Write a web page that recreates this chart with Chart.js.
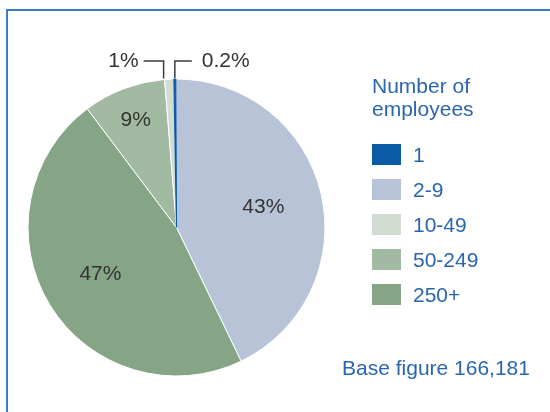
<!DOCTYPE html>
<html>
<head>
<meta charset="utf-8">
<script src="https://cdn.jsdelivr.net/npm/chart.js@4/dist/chart.umd.min.js"></script>
<style>
  body { margin: 0; background: #fff; }
  #wrap { position: relative; width: 550px; height: 412px; overflow: hidden; font-family: "Liberation Sans", Arial, sans-serif; }
  #frame { position: absolute; left: 6px; top: 9px; width: 560px; height: 420px; border-top: 2px solid #3b7dc4; border-left: 2px solid #3b7dc4; }
  #myChart { position: absolute; left: 0; top: 0; }
  .blue { position: absolute; color: #2a66ae; font-size: 21px; }
  #title { left: 372px; top: 74px; line-height: 23px; }
  .row { position: absolute; left: 372px; height: 21px; display: flex; align-items: center; color: #2a66ae; font-size: 21px; line-height: 21px; }
  .box { width: 29px; height: 21px; margin-right: 12px; }
  #base { left: 342px; top: 357px; line-height: 21px; }
</style>
</head>
<body>
<div id="wrap">
  <div id="frame"></div>
  <canvas id="myChart" width="550" height="412"></canvas>
  <div id="title" class="blue">Number of<br>employees</div>
  <div id="legend"></div>
  <div id="base" class="blue">Base figure 166,181</div>
</div>
<script>
// legend order
var categories = ['1', '2-9', '10-49', '50-249', '250+'];
var shares = [0.2, 43, 1, 9, 47];
var colors = ['#0b5aa6', '#b9c3d8', '#d2dcd2', '#a2b9a2', '#86a586'];
// clockwise slice order; the thin "1" slice goes last so it is drawn on top,
// and the rotation puts it back just left of 12 o'clock
var pieOrder = [1, 4, 3, 2, 0];
var total = shares.reduce(function (a, b) { return a + b; }, 0);
var startAngle = -1 + 360 * shares[0] / total;

var legend = document.getElementById('legend');
categories.forEach(function (c, i) {
    var row = document.createElement('div');
    row.className = 'row';
    row.style.top = (144 + i * 35) + 'px';
    row.innerHTML = '<div class="box" style="background:' + colors[i] + '"></div><span>' + c + '</span>';
    legend.appendChild(row);
});

function fmt(v) {
    return (v < 1 ? v.toFixed(1) : Math.round(v)) + '%';
}

var sliceLabels = {
    id: 'sliceLabels',
    afterDatasetsDraw: function (chart) {
        var ctx = chart.ctx;
        var data = chart.data.datasets[0].data;
        var arcs = chart.getDatasetMeta(0).data;
        ctx.save();
        ctx.font = '21px "Liberation Sans", Arial, sans-serif';
        ctx.fillStyle = '#333333';
        ctx.strokeStyle = '#3c3c3c';
        ctx.lineWidth = 1.5;
        arcs.forEach(function (arc, i) {
            var p = arc.getProps(['x', 'y', 'startAngle', 'endAngle', 'outerRadius']);
            var v = data[i];
            var mid = (p.startAngle + p.endAngle) / 2;
            var R = p.outerRadius;
            if (v >= 5) {
                var f = v >= 20 ? 0.6 : 0.775;
                ctx.textAlign = 'center';
                ctx.textBaseline = 'middle';
                ctx.fillText(fmt(v), p.x + Math.cos(mid) * R * f, p.y + Math.sin(mid) * R * f);
            } else {
                var midX = p.x + Math.cos(mid) * R;
                var left = midX < p.x - 4;
                var ax = left ? p.x + Math.cos(p.startAngle) * R - 1 : midX;
                var ay = p.y - Math.sqrt(R * R - (ax - p.x) * (ax - p.x)) - 1;
                var ty = p.y - R - 18;
                var ex = ax + (left ? -20 : 17);
                ctx.beginPath();
                ctx.moveTo(ax, ay);
                ctx.lineTo(ax, ty);
                ctx.lineTo(ex, ty);
                ctx.stroke();
                ctx.textBaseline = 'middle';
                ctx.textAlign = left ? 'right' : 'left';
                ctx.fillText(fmt(v), ex + (left ? -5 : 10), ty);
            }
        });
        ctx.restore();
    }
};

new Chart(document.getElementById('myChart'), {
    type: 'pie',
    data: {
        labels: pieOrder.map(function (i) { return categories[i]; }),
        datasets: [{
            data: pieOrder.map(function (i) { return shares[i]; }),
            backgroundColor: pieOrder.map(function (i) { return colors[i]; }),
            borderColor: pieOrder.map(function (i) { return i === 0 ? colors[0] : '#ffffff'; }),
            borderWidth: pieOrder.map(function (i) { return i === 0 ? 1.2 : 1; }),
            radius: 148.5
        }]
    },
    options: {
        responsive: false,
        animation: false,
        rotation: startAngle,
        layout: { padding: { left: 20, right: 217, top: 70, bottom: 27 } },
        plugins: {
            legend: { display: false },
            tooltip: { enabled: false }
        }
    },
    plugins: [sliceLabels]
});
</script>
</body>
</html>
